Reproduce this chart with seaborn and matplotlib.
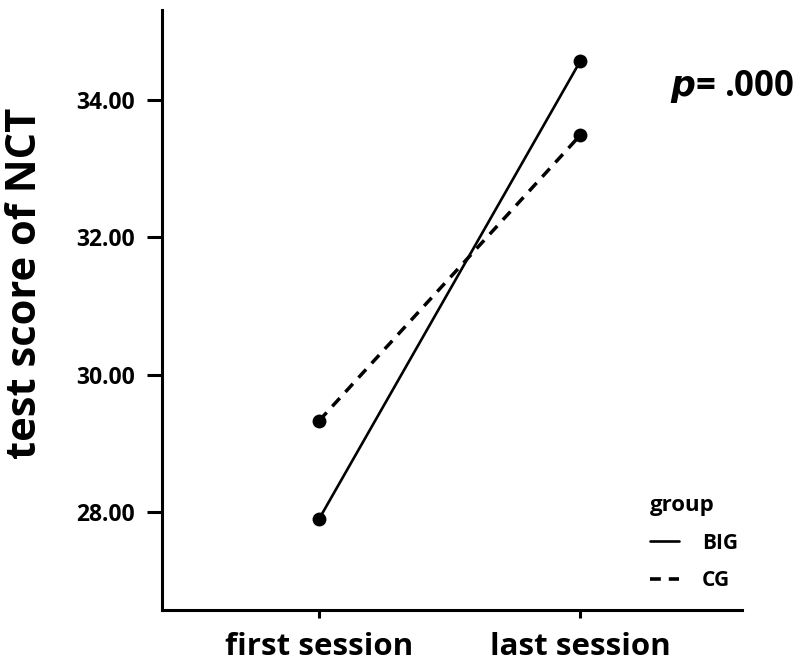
import matplotlib
matplotlib.use("Agg")
import matplotlib.pyplot as plt
from matplotlib.lines import Line2D
import seaborn as sns
import pandas as pd

sessions = ["first session", "last session"]
big_scores = [27.90, 34.57]
cg_scores = [29.33, 33.49]
groups = ["BIG", "CG"]
y_ticks = [28.0, 30.0, 32.0, 34.0]

df = pd.DataFrame({
    "session": sessions * 2,
    "score": big_scores + cg_scores,
    "group": [groups[0]] * 2 + [groups[1]] * 2,
})

sns.set_theme(style="white")
plt.rcParams["font.family"] = ["Open Sans", "DejaVu Sans"]
plt.rcParams["font.weight"] = "bold"
for k in ["text.color", "axes.labelcolor", "xtick.color", "ytick.color", "axes.edgecolor"]:
    plt.rcParams[k] = "black"

fig = plt.figure(figsize=(8, 6.72), dpi=100)
ax = fig.add_axes([0.203, 0.092, 0.725, 0.893])

sns.lineplot(data=df, x="session", y="score", style="group", color="black",
             dashes={"BIG": "", "CG": (3.2, 2.4)}, markers={"BIG": "o", "CG": "o"},
             markersize=10, linewidth=1.9, markeredgewidth=0, legend=False, ax=ax,
             sort=False)
for ln in ax.lines:
    if ln.get_linestyle() != "-":
        ln.set_linewidth(2.5)

ax.set_xlim(-0.6, 1.62)
ax.set_ylim(26.57, 35.31)
ax.set_yticks(y_ticks)
ax.set_yticklabels([f"{v:.2f}" for v in y_ticks], fontsize=16.5, fontweight="bold")
ax.set_xticks([0, 1])
ax.set_xticklabels(sessions, fontsize=22.5, fontweight="bold")
ax.set_xlabel("")
ax.set_ylabel("test score of NCT", fontsize=30, fontweight="bold")
ax.yaxis.set_label_coords(-0.2, 0.545)

for s in ["top", "right"]:
    ax.spines[s].set_visible(False)
for s in ["left", "bottom"]:
    ax.spines[s].set_linewidth(2.2)
ax.tick_params(axis="y", length=11, width=2.2, pad=9, left=True)
ax.tick_params(axis="x", length=6, width=2.2, pad=10, bottom=True)

ax.text(1.09, 0.873, r"$\boldsymbol{p}$= .000", transform=ax.transAxes,
        fontsize=25, fontweight="bold", ha="right", va="center", clip_on=False)

handles = [Line2D([], [], color="black", lw=1.9, linestyle="-"),
           Line2D([], [], color="black", lw=2.6, dashes=(3, 2.2))]
leg = ax.legend(handles, groups, title="group", loc="lower right",
                bbox_to_anchor=(1.025, 0.0), frameon=False, handlelength=1.4,
                handletextpad=1.1, labelspacing=0.8,
                prop={"weight": "bold", "size": 15})
leg.get_title().set_fontweight("bold")
leg.get_title().set_fontsize(16)
leg._legend_box.align = "left"

fig.savefig("out.png", dpi=100)
